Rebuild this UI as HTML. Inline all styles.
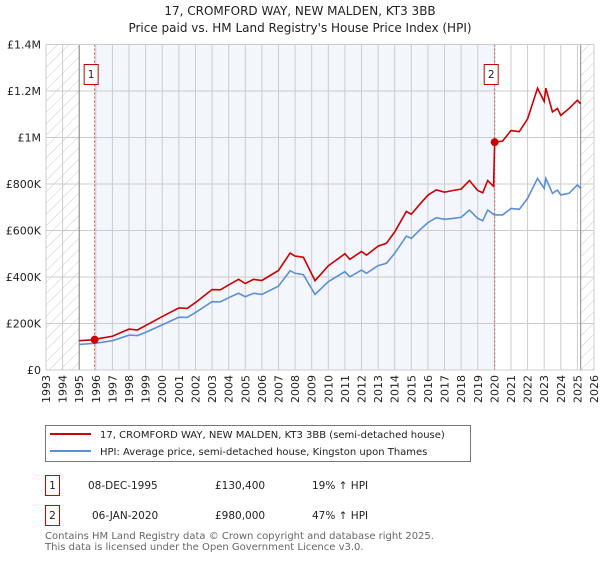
<!DOCTYPE html>
<html><head><meta charset="utf-8"><style>
body{margin:0;background:#fff;font-family:"DejaVu Sans","Liberation Sans",sans-serif;}
svg text{font-family:"DejaVu Sans","Liberation Sans",sans-serif;}
</style></head><body>
<svg id="c" width="600" height="560" xmlns="http://www.w3.org/2000/svg">
<defs><pattern id="hatch" width="8" height="8" patternUnits="userSpaceOnUse" patternTransform="rotate(45)"><line x1="0" y1="0" x2="0" y2="8" stroke="#ccc" stroke-width="1"/></pattern></defs>
<text x="300" y="15" text-anchor="middle" font-size="12" fill="#222">17, CROMFORD WAY, NEW MALDEN, KT3 3BB</text>
<text x="300" y="32" text-anchor="middle" font-size="12" fill="#222">Price paid vs. HM Land Registry's House Price Index (HPI)</text>
<g id="plot"></g>
<g>
<rect x="45.5" y="425.5" width="425" height="36" fill="#fff" stroke="#777"/>
<line x1="50" y1="434" x2="91" y2="434" stroke="#cc0000" stroke-width="2"/>
<text x="100" y="438" font-size="10" fill="#222">17, CROMFORD WAY, NEW MALDEN, KT3 3BB (semi-detached house)</text>
<line x1="50" y1="451" x2="91" y2="451" stroke="#5b8fd6" stroke-width="2"/>
<text x="100" y="455" font-size="10" fill="#222">HPI: Average price, semi-detached house, Kingston upon Thames</text>
</g>
<g font-size="10.5" fill="#222">
<rect x="45.5" y="475.5" width="14" height="20" fill="#fff" stroke="#cc0000"/>
<text x="52.5" y="489" text-anchor="middle">1</text>
<text x="88" y="489">08-DEC-1995</text><text x="215" y="489">£130,400</text><text x="312" y="489">19% ↑ HPI</text>
<rect x="45.5" y="505.5" width="14" height="20" fill="#fff" stroke="#cc0000"/>
<text x="52.5" y="519" text-anchor="middle">2</text>
<text x="92" y="519">06-JAN-2020</text><text x="215" y="519">£980,000</text><text x="312" y="519">47% ↑ HPI</text>
</g>
<text x="45" y="539" font-size="10" fill="#666">Contains HM Land Registry data © Crown copyright and database right 2025.</text>
<text x="45" y="550" font-size="10" fill="#666">This data is licensed under the Open Government Licence v3.0.</text>
</svg>
<script>
const hpiYears=[1995,1996,1997,1998,1998.5,1999,2000,2001,2001.5,2002,2003,2003.5,2004,2004.6,2005,2005.5,2006,2007,2007.7,2008,2008.5,2009.2,2010,2011,2011.3,2012,2012.3,2013,2013.5,2014,2014.7,2015,2015.5,2016,2016.5,2017,2017.5,2018,2018.5,2019,2019.3,2019.6,2020,2020.5,2021,2021.5,2022,2022.6,2023,2023.1,2023.5,2023.8,2024,2024.5,2025,2025.2];
const hpiValues=[110,115,126,150,148,162,194,227,226,247,294,293,311,330,315,330,325,361,427,416,410,325,380,423,401,430,416,449,459,502,576,566,602,634,655,648,652,657,688,652,642,688,667,667,695,691,738,824,781,824,760,774,753,760,796,781];
const redYears=[1995,1995.93,1996,1997,1998,1998.5,1999,2000,2001,2001.5,2002,2003,2003.5,2004,2004.6,2005,2005.5,2006,2007,2007.7,2008,2008.5,2009.2,2010,2011,2011.3,2012,2012.3,2013,2013.5,2014,2014.7,2015,2015.5,2016,2016.5,2017,2017.5,2018,2018.5,2019,2019.3,2019.6,2019.95,2020.02,2020.5,2021,2021.5,2022,2022.6,2023,2023.1,2023.5,2023.8,2024,2024.5,2025,2025.2];
const redValues=[126,130.4,133,145,176,172,191,230,267,265,290,346,345,366,390,372,390,385,428,503,490,485,384,448,500,476,510,494,533,545,594,682,670,712,752,775,765,772,778,815,772,762,815,790,980,985,1030,1025,1080,1212,1155,1212,1110,1125,1095,1125,1160,1145];
const yTicks=[0,200,400,600,800,1000,1200,1400];
const yTickLabels=["£0","£200K","£400K","£600K","£800K","£1M","£1.2M","£1.4M"];
const xTicks=[1993,1994,1995,1996,1997,1998,1999,2000,2001,2002,2003,2004,2005,2006,2007,2008,2009,2010,2011,2012,2013,2014,2015,2016,2017,2018,2019,2020,2021,2022,2023,2024,2025,2026];
const saleYears=[1995.93,2020.02];
const saleValues=[130.4,980];
const saleLabels=["1","2"];

const L=46,R=594,T=44.5,B=370;
const X=y=>L+(y-1993)*(R-L)/33;
const Y=v=>B-v*(B-T)/1400;
const NS="http://www.w3.org/2000/svg";
const g=document.getElementById('plot');
function mk(t,a){const e=document.createElementNS(NS,t);for(const k in a)e.setAttribute(k,a[k]);g.appendChild(e);return e;}
let e;
e=mk('rect',{x:X(saleYears[0]),y:T,width:X(saleYears[1])-X(saleYears[0]),height:B-T,fill:'#f3f6fd'});

e=mk('rect',{x:L,y:T,width:X(1995)-L,height:B-T,fill:'url(#hatch)'});

e=mk('rect',{x:X(2025.2),y:T,width:R-X(2025.2),height:B-T,fill:'url(#hatch)'});

yTicks.forEach((v,i)=>{
 e=mk('line',{x1:L,x2:R,y1:Y(v),y2:Y(v),stroke:'#ccc','stroke-width':1});
 
 e=mk('text',{x:L-5,y:Y(v)+4,'text-anchor':'end','font-size':11,fill:'#222'});e.textContent=yTickLabels[i];
 
});
xTicks.forEach(yr=>{
 e=mk('line',{x1:X(yr),x2:X(yr),y1:T,y2:B,stroke:'#ccc','stroke-width':1});
 
 e=mk('text',{x:0,y:0,'text-anchor':'end','font-size':11,fill:'#222',transform:`translate(${X(yr)+4},${B+5}) rotate(-90)`});e.textContent=yr;
 
});
e=mk('line',{x1:X(1995),x2:X(1995),y1:T,y2:B,stroke:'#888'});
e=mk('line',{x1:X(2025.2),x2:X(2025.2),y1:T,y2:B,stroke:'#888'});
saleYears.forEach((yr,i)=>{
 e=mk('line',{x1:X(yr),x2:X(yr),y1:T,y2:B,stroke:'#e05050','stroke-dasharray':'2,2'});
 
});
e=mk('polyline',{points:hpiYears.map((y,i)=>X(y)+','+Y(hpiValues[i])).join(' '),fill:'none',stroke:'#5b8fd6','stroke-width':1.6});

e=mk('polyline',{points:redYears.map((y,i)=>X(y)+','+Y(redValues[i])).join(' '),fill:'none',stroke:'#cc0000','stroke-width':1.6});

saleYears.forEach((yr,i)=>{
 e=mk('circle',{cx:X(yr),cy:Y(saleValues[i]),r:4,fill:'#cc0000'});
 
 e=mk('rect',{x:X(yr)-10.5,y:64.5,width:14,height:20,fill:'#fff',stroke:'#cc0000'});
 
 e=mk('text',{x:X(yr)-3.5,y:78,'text-anchor':'middle','font-size':10.5,fill:'#222'});e.textContent=saleLabels[i];
 
});
e=mk('rect',{x:L,y:T,width:R-L,height:B-T,fill:'none',stroke:'#ccc'});

</script>
</body></html>
